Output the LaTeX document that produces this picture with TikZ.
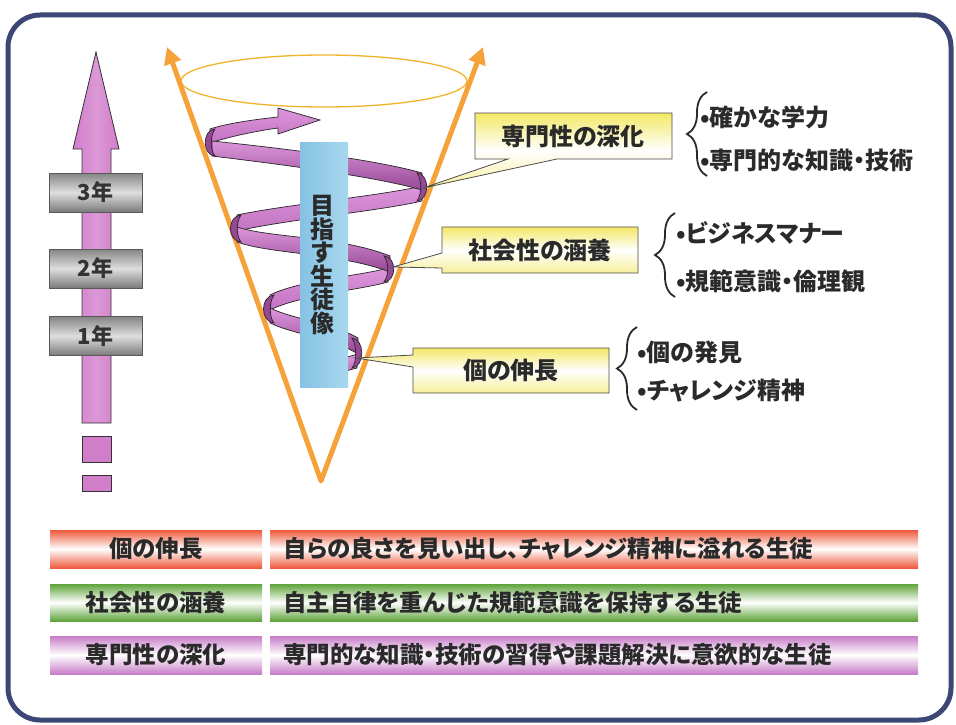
\documentclass[tikz,border=0pt]{standalone}
\usepackage{fontspec}
\setmainfont{Noto Sans CJK JP}[RawFeature={+palt}]
\usetikzlibrary{arrows.meta,decorations.pathreplacing}
\definecolor{framec}{HTML}{3D4775}
\definecolor{txtc}{HTML}{2A2A2A}
\definecolor{orng}{HTML}{F5A23A}
\definecolor{ellc}{HTML}{F0B428}
\definecolor{arrp}{HTML}{D07DCA}
\definecolor{arrpL}{HTML}{DC98D6}
\definecolor{rbL}{HTML}{DC96DA}
\definecolor{rbM}{HTML}{C272C1}
\definecolor{rbD}{HTML}{964896}
\definecolor{pilL}{HTML}{86C2E4}
\definecolor{pilR}{HTML}{A8D7EE}
\definecolor{ylT}{HTML}{F3E866}
\definecolor{ylB}{HTML}{F7F09A}
\definecolor{grT}{HTML}{858585}
\definecolor{grM}{HTML}{DEDEDE}
\definecolor{grB}{HTML}{7A7A7A}
\definecolor{bRed}{HTML}{EE5A3C}
\definecolor{bGrn}{HTML}{5FA33A}
\definecolor{bPur}{HTML}{C77DC8}
\newcommand{\jfs}[1]{\fontsize{#1}{#1}\selectfont}
\begin{document}
\begin{tikzpicture}[x=1pt,y=-1pt,
  lbl/.style={text=txtc, inner sep=0pt, font=\jfs{24}\bfseries},
  yearbox/.style={draw=black!65, line width=0.6, top color=grT, bottom color=grB, middle color=grM,
     minimum width=93pt, minimum height=39pt, inner sep=0pt, text=black!80, font=\jfs{22}\bfseries},
  ribbon/.style={draw=black!85, line width=0.7},
  rfront/.style={ribbon, top color=rbL, bottom color=rbD},
  rback/.style={ribbon, top color=rbL, bottom color=rbM},
  curl/.style={ribbon, fill=rbD},
  callout/.style={draw=black!70, line width=0.8, top color=ylT, bottom color=ylB, middle color=white},
  bracec/.style={draw=txtc, line width=1.8, decorate, decoration={brace, amplitude=20pt}},
  bandtxt/.style={text=txtc, inner sep=0pt, font=\jfs{23.5}\bfseries},
  bandR/.style={top color=bRed, bottom color=bRed, middle color=white},
  bandG/.style={top color=bGrn, bottom color=bGrn, middle color=white},
  bandP/.style={top color=bPur, bottom color=bPur, middle color=white},
]
\useasboundingbox (0,0) rectangle (956,725);
\fill[white] (0,0) rectangle (956,725);
% frame
\draw[framec, line width=5, rounded corners=32pt, fill=white] (8,15) rectangle (951,720);

% left arrow
\draw[black!80, line width=0.8, left color=arrp, right color=arrp, middle color=arrpL]
  (82,423) -- (82,149) -- (73,149) -- (96,52) -- (119,149) -- (111,149) -- (111,423) -- cycle;
\draw[black!80, line width=0.8, fill=arrp] (82,436) rectangle (111,462);
\draw[black!80, line width=0.8, fill=arrp] (82,475) rectangle (111,491);
\node[yearbox] (y3) at (95.5,192.5) {3年};
\node[yearbox] (y2) at (95.5,268.5) {2年};
\node[yearbox] (y1) at (95.5,336) {1年};

% cone
\draw[ellc, line width=1.3] (324,81) ellipse [x radius=143, y radius=26];
\coordinate (tl) at (167,47);
\coordinate (tr) at (483,47);
\coordinate (apex) at (321,481);
\draw[orng, line width=5, line join=round,
  {Triangle[length=17pt,width=17pt]}-{Triangle[length=17pt,width=17pt]}] (tl) -- (apex) -- (tr);

% spiral ribbon: back segments
\path[rback] (210,129) .. controls (225,124) and (250,120) .. (278,117) -- (278,108) -- (320,120) -- (278,134) -- (278,128)
   .. controls (250,132) and (225,138) .. (210,143) -- cycle;
\path[rback] (422,186) .. controls (380,196) and (290,204) .. (237,215) -- (237,231) .. controls (290,219) and (380,211) .. (422,201) -- cycle;
\path[rback] (388,268) .. controls (360,276) and (300,280) .. (270,295) -- (270,310) .. controls (300,295) and (360,290) .. (388,282) -- cycle;
\path[rback] (357,354) .. controls (352,356) and (348,357) .. (340,358) -- (340,372) .. controls (348,371) and (352,369) .. (357,368) -- cycle;
% front segments
\path[rfront] (212,141) .. controls (260,146) and (370,158) .. (422,173) -- (422,190) .. controls (370,175) and (260,162) .. (212,156) -- cycle;
\path[rfront] (237,227) .. controls (270,238) and (340,236) .. (390,256) -- (390,272) .. controls (340,253) and (270,254) .. (237,242) -- cycle;
\path[rfront] (270,308) .. controls (295,320) and (330,322) .. (358,338) -- (358,354) .. controls (330,337) and (295,335) .. (270,323) -- cycle;
% curls
\path[curl] (215,129) .. controls (202,130) and (202,155) .. (215,156) .. controls (210,150) and (210,136) .. (215,129) -- cycle;
\path[curl] (417,173) .. controls (430,174) and (430,200) .. (417,201) .. controls (422,194) and (422,180) .. (417,173) -- cycle;
\path[curl] (241,215) .. controls (227,216) and (227,241) .. (241,242) .. controls (236,236) and (236,222) .. (241,215) -- cycle;
\path[curl] (384,256) .. controls (397,257) and (397,281) .. (384,282) .. controls (389,275) and (389,263) .. (384,256) -- cycle;
\path[curl] (274,295) .. controls (260,296) and (260,322) .. (274,323) .. controls (269,317) and (269,302) .. (274,295) -- cycle;
\path[curl] (352,338) .. controls (365,339) and (365,367) .. (352,368) .. controls (357,362) and (357,346) .. (352,338) -- cycle;

% pillar
\node[minimum width=48pt, minimum height=245pt, inner sep=0pt, left color=pilL, right color=pilR] (pillar) at (324,264.5) {};
\node[align=center, text=txtc, inner sep=0pt, font=\fontsize{24}{23.5}\selectfont\bfseries] (goal) at (322,265) {目\\指\\す\\生\\徒\\像};

% callouts
\path[callout] (475,113) -- (672,113) -- (672,159) -- (557,159) -- (423,188) -- (508,159) -- (475,159) -- cycle;
\path[callout] (442,227) -- (638,227) -- (638,273) -- (442,273) -- (442,268) -- (393,267) -- (442,253) -- cycle;
\path[callout] (413,348) -- (609,348) -- (609,393) -- (413,393) -- (413,367) -- (356,358) -- (413,355) -- cycle;
\node[lbl] (c1) at (573,136) {専門性の深化};
\node[lbl] (c2) at (540,250) {社会性の涵養};
\node[lbl] (c3) at (511,370.5) {個の伸長};

% braces and bullets
\draw[bracec] (707,176) -- (707,92);
\draw[bracec] (675,297) -- (675,213);
\draw[bracec] (637,410) -- (637,327);
\node[lbl, anchor=west] (b1a) at (700,117) {•確かな学力};
\node[lbl, anchor=west] (b1b) at (700,160) {•専門的な知識・技術};
\node[lbl, anchor=west] (b2a) at (676,233) {•ビジネスマナー};
\node[lbl, anchor=west] (b2b) at (676,281) {•規範意識・倫理観};
\node[lbl, anchor=west] (b3a) at (637,352) {•個の発見};
\node[lbl, anchor=west] (b3b) at (637,391) {•チャレンジ精神};

% bottom bands
\shade[bandR] (50,530) rectangle (262,568);
\shade[bandR] (270,530) rectangle (918,568);
\shade[bandG] (50,584) rectangle (262,621);
\shade[bandG] (270,584) rectangle (918,621);
\shade[bandP] (50,636) rectangle (262,674);
\shade[bandP] (270,636) rectangle (918,674);
\node[bandtxt] (l1) at (156,549) {個の伸長};
\node[bandtxt] (l2) at (156,602.5) {社会性の涵養};
\node[bandtxt] (l3) at (156,655) {専門性の深化};
\node[bandtxt, anchor=west] (r1) at (283,549) {自らの良さを見い出し、チャレンジ精神に溢れる生徒};
\node[bandtxt, anchor=west] (r2) at (283,602.5) {自主自律を重んじた規範意識を保持する生徒};
\node[bandtxt, anchor=west] (r3) at (283,655) {専門的な知識・技術の習得や課題解決に意欲的な生徒};
\end{tikzpicture}
\end{document}
